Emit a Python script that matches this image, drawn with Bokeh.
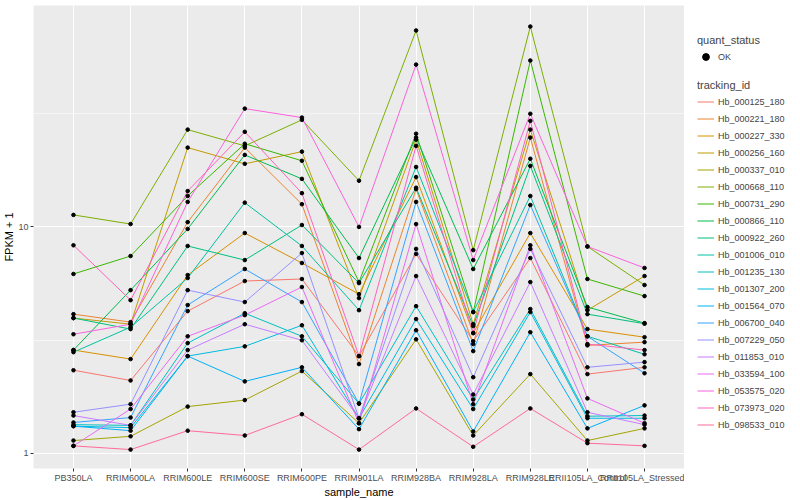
from bokeh.plotting import figure
from bokeh.layouts import row
from bokeh.models import FactorRange, Range1d, FixedTicker, Legend, LegendItem, BasicTickFormatter
from bokeh.embed import file_html
from bokeh.resources import INLINE

samples = ["PB350LA", "RRIM600LA", "RRIM600LE", "RRIM600SE", "RRIM600PE", "RRIM901LA",
           "RRIM928BA", "RRIM928LA", "RRIM928LE", "RRII105LA_Control", "RRII105LA_Stressed"]

tracking_ids = ["Hb_000125_180", "Hb_000221_180", "Hb_000227_330", "Hb_000256_160", "Hb_000337_010",
                "Hb_000668_110", "Hb_000731_290", "Hb_000866_110", "Hb_000922_260", "Hb_001006_010",
                "Hb_001235_130", "Hb_001307_200", "Hb_001564_070", "Hb_006700_040", "Hb_007229_050",
                "Hb_011853_010", "Hb_033594_100", "Hb_053575_020", "Hb_073973_020", "Hb_098533_010"]

colors = ["#F8766D", "#EA8331", "#D89000", "#C09B00", "#A3A500", "#7CAE00", "#39B600", "#00BB4E",
          "#00BF7D", "#00C1A3", "#00BFC4", "#00BAE0", "#00B0F6", "#35A2FF", "#9590FF", "#C77CFF",
          "#E76BF3", "#FA62DB", "#FF62BC", "#FF6A98"]

quant_status = ["OK"]

# FPKM + 1 per sample (order of `samples`)
hb_000125_180 = [2.33, 2.10, 4.25, 5.77, 5.89, 2.69, 7.6, 3.13, 7.29, 2.24, 2.40]
hb_000221_180 = [4.12, 3.80, 10.5, 22.4, 12.6, 2.48, 14.7, 3.04, 24.8, 3.00, 3.10]
hb_000227_330 = [2.86, 2.61, 6.13, 9.4, 6.93, 5.05, 16.6, 3.40, 9.4, 3.54, 3.26]
hb_000256_160 = [3.96, 3.72, 22.4, 19.0, 21.5, 4.85, 24.3, 3.72, 26.9, 4.29, 6.07]
hb_000337_010 = [1.14, 1.19, 1.61, 1.72, 2.31, 1.36, 3.19, 1.20, 2.24, 1.14, 1.29]
hb_000668_110 = [11.3, 10.3, 26.9, 22.8, 29.7, 16.0, 73.7, 7.9, 76.7, 8.2, 5.54]
hb_000731_290 = [6.2, 7.44, 13.7, 23.3, 19.6, 5.71, 25.8, 4.21, 54.3, 5.89, 4.95]
hb_000866_110 = [2.86, 5.26, 9.8, 20.8, 16.3, 7.29, 24.8, 6.52, 20.0, 4.43, 3.76]
hb_000922_260 = [3.96, 3.54, 8.24, 7.14, 10.2, 5.65, 14.9, 3.65, 18.6, 4.12, 3.74]
hb_001006_010 = [2.80, 3.61, 5.95, 12.8, 8.24, 4.29, 18.4, 4.21, 13.7, 3.29, 2.74]
hb_001235_130 = [1.34, 1.33, 3.07, 4.16, 3.29, 1.66, 4.47, 1.73, 4.34, 1.46, 1.47]
hb_001307_200 = [1.32, 1.30, 2.69, 2.97, 3.68, 1.43, 3.92, 1.57, 4.21, 1.43, 1.43]
hb_001564_070 = [1.32, 1.26, 2.69, 2.08, 2.40, 1.28, 3.50, 1.25, 3.43, 1.29, 1.63]
hb_006700_040 = [1.37, 1.44, 4.52, 6.52, 4.66, 1.66, 12.9, 2.83, 12.5, 3.29, 2.26]
hb_007229_050 = [1.52, 1.65, 5.26, 4.66, 7.67, 1.43, 8.0, 2.17, 8.0, 2.40, 2.53]
hb_011853_010 = [1.47, 1.33, 2.86, 3.72, 3.16, 1.43, 6.07, 1.82, 5.71, 1.52, 1.34]
hb_033594_100 = [1.08, 1.57, 3.29, 4.08, 5.43, 1.36, 10.3, 1.65, 8.3, 1.75, 1.36]
hb_053575_020 = [3.36, 3.72, 12.9, 33.3, 30.4, 10.0, 52.1, 7.14, 31.6, 8.2, 6.59]
hb_073973_020 = [8.3, 4.75, 14.4, 26.3, 14.1, 2.69, 22.8, 3.40, 29.4, 3.04, 2.86]
hb_098533_010 = [1.08, 1.04, 1.26, 1.20, 1.49, 1.04, 1.58, 1.07, 1.58, 1.11, 1.08]

series = [hb_000125_180, hb_000221_180, hb_000227_330, hb_000256_160, hb_000337_010,
          hb_000668_110, hb_000731_290, hb_000866_110, hb_000922_260, hb_001006_010,
          hb_001235_130, hb_001307_200, hb_001564_070, hb_006700_040, hb_007229_050,
          hb_011853_010, hb_033594_100, hb_053575_020, hb_073973_020, hb_098533_010]

FONT = "Liberation Sans"

p = figure(width=684, height=500,
           x_range=FactorRange(factors=samples, range_padding=0.2, range_padding_units="absolute"),
           y_range=Range1d(0.858, 95.0), y_axis_type="log",
           output_backend="svg", toolbar_location=None,
           min_border_top=5, min_border_left=20, min_border_right=0, min_border_bottom=20)

p.background_fill_color = "#EBEBEB"
p.border_fill_color = "white"
p.outline_line_color = None

p.yaxis.ticker = FixedTicker(ticks=[1, 10, 100], minor_ticks=[3.1623, 31.623])
p.yaxis.formatter = BasicTickFormatter()
p.xgrid.grid_line_color = "white"
p.xgrid.grid_line_width = 1.1
p.ygrid.grid_line_color = "white"
p.ygrid.grid_line_width = 1.1
p.ygrid.minor_grid_line_color = "white"
p.ygrid.minor_grid_line_width = 0.55

for ax in p.axis:
    ax.axis_line_color = None
    ax.major_tick_line_color = "#333333"
    ax.major_tick_out = 3
    ax.major_tick_in = 0
    ax.minor_tick_line_color = None
    ax.major_label_text_color = "#4D4D4D"
    ax.major_label_text_font = FONT
    ax.major_label_text_font_size = "9px"
    ax.major_label_standoff = 1
    ax.axis_label_text_font = FONT
    ax.axis_label_text_font_size = "11px"
    ax.axis_label_text_font_style = "normal"
    ax.axis_label_text_color = "black"
    ax.axis_label_standoff = 0

p.xaxis.axis_label = "sample_name"
p.yaxis.axis_label = "FPKM + 1"

for col, vals in zip(colors, series):
    p.line(samples, vals, line_color=col, line_width=1.0)

all_x = [s for vals in series for s in samples]
all_y = [v for vals in series for v in vals]
p.scatter(all_x, all_y, size=3.6, color="black", marker="circle")

# legend panel (keys only; renderers hold no visible data)
lp = figure(width=116, height=500, output_backend="svg", toolbar_location=None,
            x_range=Range1d(0, 1), y_range=Range1d(0, 1),
            min_border=0, min_border_left=0, min_border_right=0, min_border_top=0, min_border_bottom=0)
lp.axis.visible = False
lp.grid.visible = False
lp.outline_line_color = None
lp.background_fill_color = "white"

nan = float("nan")
line_items = []
for tid, col in zip(tracking_ids, colors):
    r = lp.line([nan], [nan], line_color=col, line_width=1.0)
    line_items.append(LegendItem(label=tid, renderers=[r]))
pt = lp.scatter([nan], [nan], size=3.6, color="black", marker="circle")
status_items = [LegendItem(label=quant_status[0], renderers=[pt])]

def style_legend(lg):
    lg.title_text_font = FONT
    lg.title_text_font_size = "11px"
    lg.title_text_font_style = "normal"
    lg.label_text_font = FONT
    lg.label_text_font_size = "9px"
    lg.glyph_width = 17
    lg.glyph_height = 17
    lg.label_height = 17
    lg.label_standoff = 4
    lg.spacing = 0
    lg.padding = 0
    lg.margin = 0
    lg.title_standoff = 2
    lg.border_line_color = None
    lg.background_fill_alpha = 0

lg1 = Legend(items=status_items, title="quant_status", location=(13, 403))
style_legend(lg1)
lg2 = Legend(items=line_items, title="tracking_id", location=(13, 35))
style_legend(lg2)
lp.add_layout(lg1, "center")
lp.add_layout(lg2, "center")

layout = row(p, lp, spacing=0)
open("out.html", "w").write(file_html(layout, INLINE))
